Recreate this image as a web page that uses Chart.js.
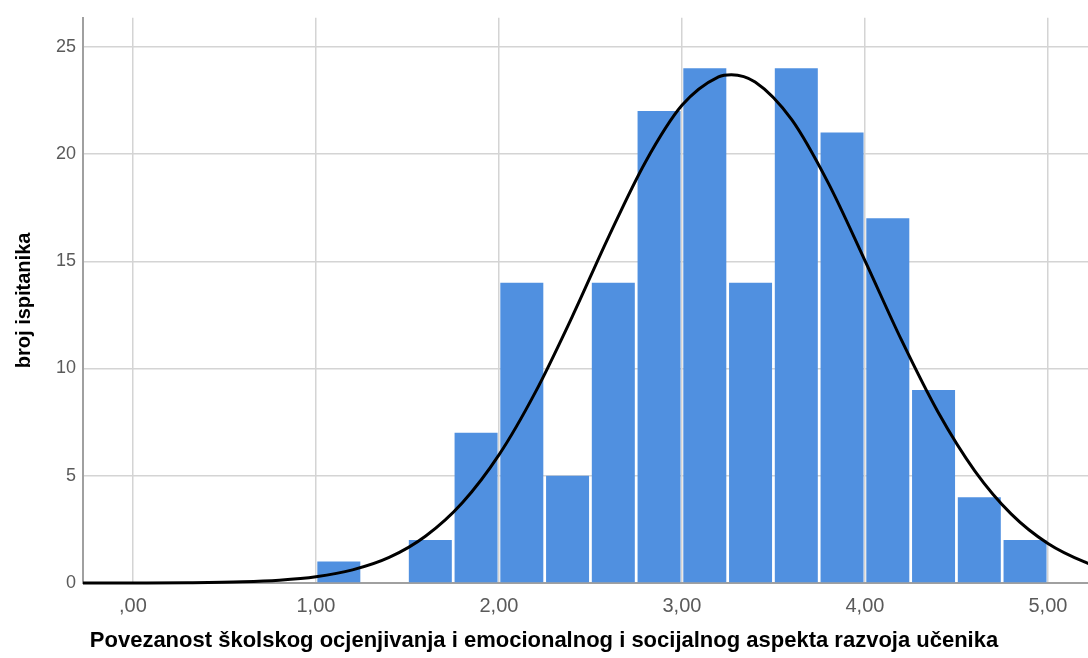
<!DOCTYPE html>
<html>
<head>
<meta charset="utf-8">
<script src="https://cdn.jsdelivr.net/npm/chart.js@4"></script>
<style>
html,body{margin:0;padding:0;background:#fff;}
#wrap{width:1088px;height:658px;position:relative;}
</style>
</head>
<body>
<div id="wrap"><canvas id="c" width="1088" height="658"></canvas></div>
<script>
// Histogram bins (centers) and counts
const binCenters = [1.125, 1.625, 1.875, 2.125, 2.375, 2.625, 2.875, 3.125, 3.375, 3.625, 3.875, 4.125, 4.375, 4.625, 4.875];
const binCounts  = [1, 2, 7, 14, 5, 14, 22, 24, 14, 24, 21, 17, 9, 4, 2];

// Normal curve
const curveX = [-0.3, 0, 0.3, 0.6, 0.8, 1.0, 1.2, 1.4, 1.6, 1.8, 2.0, 2.2, 2.4, 2.6, 2.8, 3.0, 3.2, 3.27, 3.4, 3.6, 3.8, 4.0, 4.2, 4.4, 4.6, 4.8, 5.0, 5.2, 5.3];
const curveY = [0.0, 0.003, 0.013, 0.054, 0.13, 0.29, 0.61, 1.19, 2.19, 3.74, 5.97, 8.91, 12.41, 16.15, 19.62, 22.27, 23.6, 23.7, 23.36, 21.6, 18.64, 15.03, 11.32, 7.96, 5.23, 3.21, 1.84, 0.98, 0.70];

// Tick labels
const xTickValues = [0, 1, 2, 3, 4, 5];
const xTickLabels = [',00', '1,00', '2,00', '3,00', '4,00', '5,00'];
const yTickValues = [0, 5, 10, 15, 20, 25];

const xTitle = 'Povezanost školskog ocjenjivanja i emocionalnog i socijalnog aspekta razvoja učenika';
const yTitle = 'broj ispitanika';

const barData = binCenters.map((x, i) => ({x: x, y: binCounts[i]}));
const lineData = curveX.map((x, i) => ({x: x, y: curveY[i]}));

const FONT = "'Liberation Sans', Arial, sans-serif";

new Chart(document.getElementById('c'), {
  data: {
    datasets: [
      {
        type: 'line',
        data: lineData,
        borderColor: '#000000',
        borderWidth: 3,
        pointRadius: 0,
        fill: false,
        cubicInterpolationMode: 'monotone',
        order: 0,
        clip: {left: 0, right: 0, top: 5, bottom: 5}
      },
      {
        type: 'bar',
        data: barData,
        backgroundColor: '#5090E0',
        borderWidth: 0,
        barPercentage: 0.94,
        categoryPercentage: 1.0,
        order: 1
      }
    ]
  },
  options: {
    responsive: false,
    animation: false,
    devicePixelRatio: 1,
    layout: {padding: {top: 15, left: 0, right: 0, bottom: 0}},
    plugins: {
      legend: {display: false},
      tooltip: {enabled: false},
      title: {
        display: true,
        position: 'bottom',
        text: xTitle,
        color: '#000',
        font: {family: FONT, size: 22, weight: 'bold'},
        padding: {top: 0, bottom: 4}
      }
    },
    scales: {
      x: {
        type: 'linear',
        min: -0.273,
        max: 5.219,
        offset: false,
        afterFit: s => { s.height = 44.6; },
        afterBuildTicks: s => { s.ticks = xTickValues.map(v => ({value: v})); },
        ticks: {
          autoSkip: false,
          maxRotation: 0,
          padding: 11,
          color: '#5a5a5a',
          font: {family: FONT, size: 20},
          callback: (v) => { const i = xTickValues.indexOf(v); return i >= 0 ? xTickLabels[i] : ''; }
        },
        grid: {color: '#d4d4d4', lineWidth: 1.5, drawTicks: false, offset: false},
        border: {color: '#a0a0a0', width: 2},
        title: {display: false}
      },
      y: {
        type: 'linear',
        min: 0,
        max: 26.35,
        afterFit: s => { s.width = 83; },
        afterBuildTicks: s => { s.ticks = yTickValues.map(v => ({value: v})); },
        ticks: {
          padding: 7,
          color: '#5a5a5a',
          font: {family: FONT, size: 18}
        },
        grid: {color: '#d4d4d4', lineWidth: 1.5, drawTicks: false},
        border: {color: '#a0a0a0', width: 2},
        title: {display: true, text: yTitle, color: '#000', font: {family: FONT, size: 20, weight: 'bold'}, padding: {top: 12, bottom: 0}}
      }
    }
  }
});
</script>
</body>
</html>
